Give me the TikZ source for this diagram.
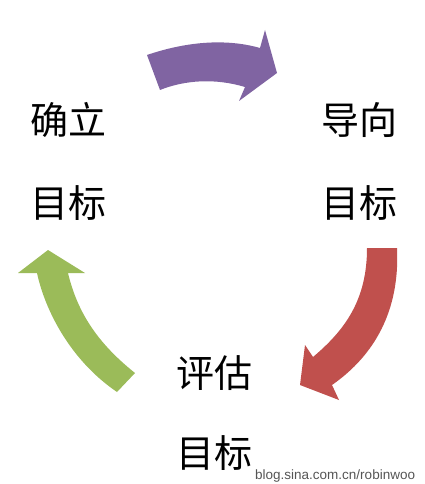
\documentclass[tikz,border=0pt]{standalone}
\usepackage{fontspec}
\newfontfamily\cjk{Noto Sans CJK SC}
\newfontfamily\wmfont{Liberation Sans}
\usepackage{tikz}
\usetikzlibrary{calc, positioning}

\definecolor{arrowpurple}{RGB}{128,100,162}
\definecolor{arrowred}{RGB}{192,80,77}
\definecolor{arrowgreen}{RGB}{155,187,89}
\definecolor{wmgray}{RGB}{85,85,85}

\tikzset{
  word/.style={inner sep=0pt, font=\cjk\fontsize{38}{40}\selectfont},
  bigarrow/.style={draw=none}
}

\begin{document}
\begin{tikzpicture}[x=1pt, y=-1pt]
  \useasboundingbox (0,0) rectangle (425,484);
  % top arrow
  \fill [arrowpurple] (147,55) .. controls (185,42) and (225,38) .. (260,48)
    -- (265,30) -- (277,73) -- (239,101) -- (245,87)
    .. controls (215,78) and (185,80) .. (160,90) -- cycle;
  % right arrow
  \fill [arrowred] (367,248) -- (397,248)
    .. controls (400,310) and (375,355) .. (332,385)
    -- (339,400) -- (300,385) -- (305,345) -- (313,357)
    .. controls (345,330) and (367,300) .. (367,248) -- cycle;
  % left arrow
  \fill [arrowgreen] (135,373) -- (117,392)
    .. controls (70,360) and (45,310) .. (37,273)
    -- (18,273) -- (48,250) -- (85,273) -- (68,273)
    .. controls (78,315) and (100,345) .. (135,373) -- cycle;
  \node [word] (set1) at (68,120) {确立};
  \node [word] (set2) at (68,203) {目标};
  \node [word] (lead1) at (359,120) {导向};
  \node [word] (lead2) at (359,203) {目标};
  \node [word] (eval1) at (214,373) {评估};
  \node [word] (eval2) at (214,453) {目标};
  \node [anchor=base west, inner sep=0pt, text=wmgray,
        font=\wmfont\fontsize{13.5}{14}\selectfont] (mark) at (255,479) {blog.sina.com.cn/robinwoo};
\end{tikzpicture}
\end{document}
